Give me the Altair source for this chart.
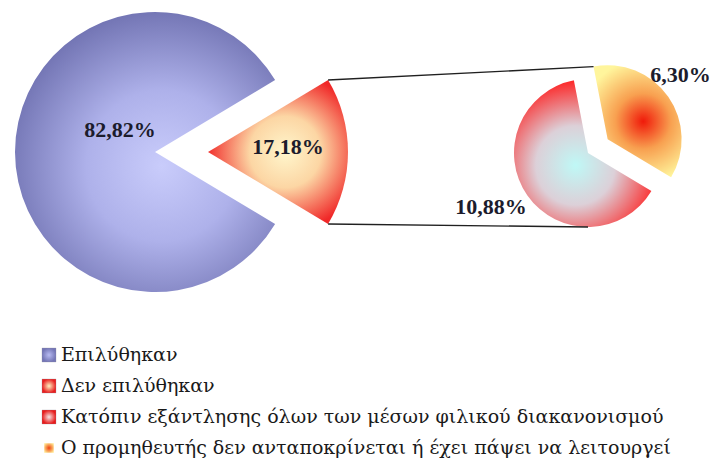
import math
import pandas as pd
import altair as alt

# ---------------- data ----------------
left_cats = ["Επιλύθηκαν", "Δεν επιλύθηκαν"]
left_vals = [82.82, 17.18]
left_labels = ["82,82%", "17,18%"]

right_cats = ["Κατόπιν εξάντλησης όλων των μέσων φιλικού διακανονισμού",
              "Ο προμηθευτής δεν ανταποκρίνεται ή έχει πάψει να λειτουργεί"]
right_vals = [10.88, 6.30]
right_labels = ["10,88%", "6,30%"]

legend_labels = left_cats + right_cats


def pie_frame(cats, vals, labels):
    ends, acc = [], 0.0
    for v in vals:
        acc += v
        ends.append(acc)
    starts = [e - v for e, v in zip(ends, vals)]
    mids = [(s + e) / 2 for s, e in zip(starts, ends)]
    return pd.DataFrame({"cat": cats, "value": vals, "label": labels,
                         "start": starts, "end": ends, "mid": mids})


left_df = pie_frame(left_cats, left_vals, left_labels)
right_df = pie_frame(right_cats, right_vals, right_labels)
legend_df = pd.DataFrame({"label": legend_labels, "idx": list(range(len(legend_labels)))})

# ---------------- styles / layout ----------------
W, H = 704, 447
FONT_LAB = "Liberation Serif"
FONT_LEG = "DejaVu Serif"

def radial(stops, cx=0.5, cy=0.5, r=0.5):
    return {"gradient": "radial", "x1": cx, "y1": cy, "r1": 0,
            "x2": cx, "y2": cy, "r2": r,
            "stops": [{"offset": o, "color": c} for o, c in stops]}

g_big = radial([(0, "#c9ccfb"), (0.45, "#aeb1ea"), (1, "#6a6cac")], 0.56, 0.55, 0.6)
g_small = radial([(0, "#fff6cc"), (0.45, "#fcd6a4"), (1, "#f02828")], 0.55, 0.5, 0.55)
g_r1 = radial([(0, "#bff8f6"), (0.45, "#dcd0d8"), (1, "#ff1c1c")], 0.45, 0.58, 0.6)
g_r2 = radial([(0, "#f01a0a"), (0.45, "#f8a050"), (1, "#fff59c")], 0.55, 0.5, 0.55)

# left pie geometry
C1 = (147, 144)
R1 = 140
EXPLODE1 = 53
a0_left = math.pi / 2 + math.pi * left_vals[1] / 100.0
theta_left = alt.Scale(domain=[0, sum(left_vals)], range=[a0_left, a0_left + 2 * math.pi])

# right pie geometry
C2 = (580, 145)
R2 = 74
a0_right = math.radians(121)
theta_right = alt.Scale(domain=[0, sum(right_vals)], range=[a0_right, a0_right + 2 * math.pi])
mid2 = a0_right + 2 * math.pi * (right_vals[0] + right_vals[1] / 2) / sum(right_vals)
EXPLODE2 = 24
C2e = (C2[0] + EXPLODE2 * math.sin(mid2), C2[1] - EXPLODE2 * math.cos(mid2))
C1e = (C1[0] + EXPLODE1, C1[1])


def slice_layer(df, cat, scale, center, radius, fill):
    return alt.Chart(df).transform_filter(alt.datum.cat == cat).mark_arc(
        radius=radius, fill=fill, strokeWidth=0
    ).encode(
        theta=alt.Theta("start:Q", scale=scale),
        theta2="end:Q",
        x=alt.value(center[0]), y=alt.value(center[1]),
    )


def label_layer(df, cat, scale, center, radius, dx, dy):
    return alt.Chart(df).transform_filter(alt.datum.cat == cat).mark_text(
        radius=radius, dx=dx, dy=dy, font=FONT_LAB, fontWeight="bold",
        fontSize=22, color="#1c1c2c", align="center", baseline="middle"
    ).encode(
        theta=alt.Theta("mid:Q", scale=scale),
        x=alt.value(center[0]), y=alt.value(center[1]),
        text="label:N",
    )


left = alt.layer(
    slice_layer(left_df, left_cats[0], theta_left, C1, R1, g_big),
    slice_layer(left_df, left_cats[1], theta_left, C1e, R1, g_small),
    label_layer(left_df, left_cats[0], theta_left, C1, 35, 0, -22),
    label_layer(left_df, left_cats[1], theta_left, C1e, 80, 0, -5),
)

right = alt.layer(
    slice_layer(right_df, right_cats[0], theta_right, C2, R2, g_r1),
    slice_layer(right_df, right_cats[1], theta_right, C2e, R2, g_r2),
    label_layer(right_df, right_cats[0], theta_right, C2, 110, -7, -9),
    label_layer(right_df, right_cats[1], theta_right, C2e, 95, -5, -10),
)

# connector lines from the exploded slice corners to the secondary pie
t_top = a0_left + 2 * math.pi * left_df["start"][1] / 100.0
t_bot = a0_left + 2 * math.pi * left_df["end"][1] / 100.0
p_top = (C1e[0] + R1 * math.sin(t_top), C1e[1] - R1 * math.cos(t_top))
p_bot = (C1e[0] + R1 * math.sin(t_bot), C1e[1] - R1 * math.cos(t_bot))
t_r_top = a0_right + 2 * math.pi * right_df["start"][1] / sum(right_vals)
q_top = (C2e[0] + R2 * math.sin(t_r_top), C2e[1] - R2 * math.cos(t_r_top))
q_bot = (C2[0], C2[1] + R2)

dummy = pd.DataFrame({"k": [0]})
lines = alt.layer(*[
    alt.Chart(dummy).mark_rule(color="#202020", strokeWidth=1.4).encode(
        x=alt.value(a[0]), y=alt.value(a[1]), x2=alt.value(b[0]), y2=alt.value(b[1]))
    for a, b in [(p_top, q_top), (p_bot, q_bot)]
])

# legend
leg_y = alt.Scale(domain=[0, 3], range=[347, 440])
swatch_fills = [
    radial([(0, "#b8bbf2"), (1, "#7476b6")], r=0.5),
    radial([(0, "#fff2c0"), (1, "#e82020")], r=0.5),
    radial([(0, "#f4e6e6"), (1, "#e81c1c")], r=0.5),
    radial([(0, "#f04010"), (1, "#ffe890")], r=0.6),
]
swatch_sizes = [196, 196, 196, 90]
swatches = [
    alt.Chart(legend_df).transform_filter(alt.datum.idx == i).mark_square(
        size=swatch_sizes[i], fill=swatch_fills[i], opacity=1, stroke="#9090a0",
        strokeWidth=0.3 if i < 3 else 0
    ).encode(x=alt.value(41), y=alt.Y("idx:Q", scale=leg_y, axis=None))
    for i in range(len(legend_labels))
]
leg_text = alt.Chart(legend_df).mark_text(
    align="left", baseline="middle", font=FONT_LEG, fontSize=19, color="#1a1a1a"
).encode(x=alt.value(53), y=alt.Y("idx:Q", scale=leg_y, axis=None), text="label:N")

chart = alt.layer(left, right, lines, *swatches, leg_text).resolve_scale(
    theta="independent"
).properties(width=W, height=H, padding=0).configure_view(strokeWidth=0)

chart.save("out.html", embed_options={"renderer": "svg", "actions": False})
